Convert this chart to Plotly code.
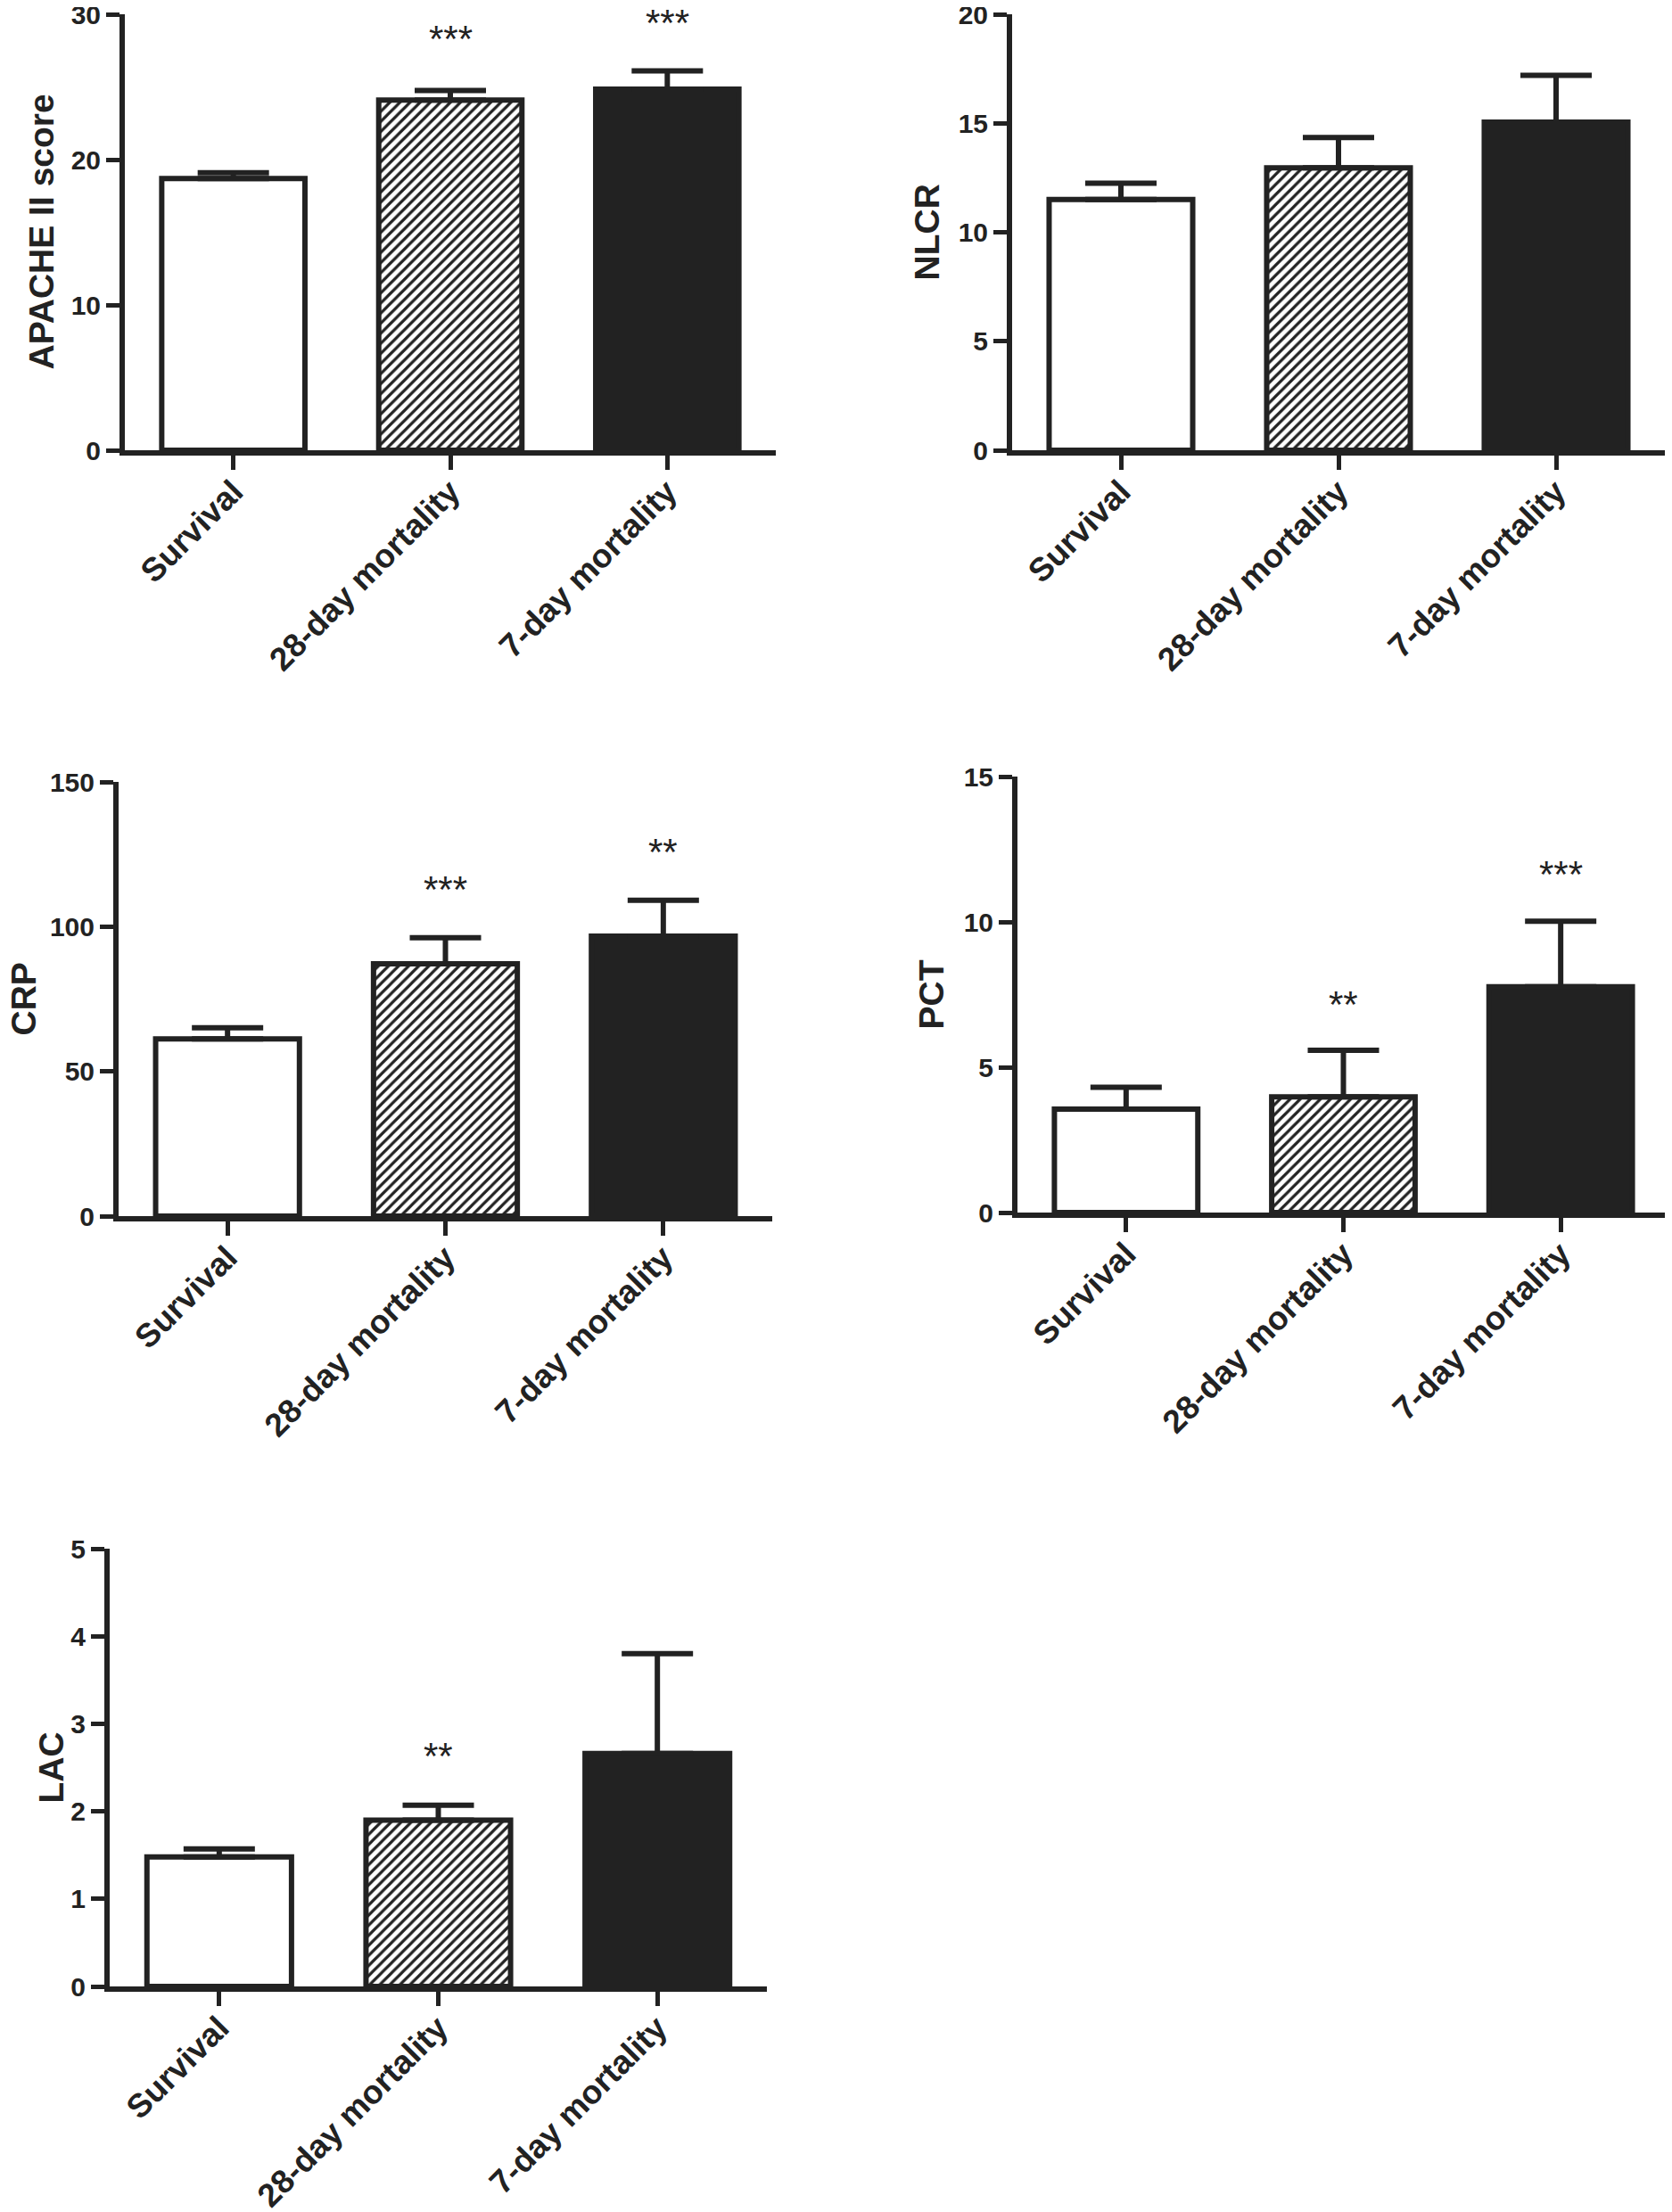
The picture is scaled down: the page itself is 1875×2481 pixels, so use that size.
import plotly.graph_objects as go

W, H = 1875, 2481
OFF = 8  # default page body margin shifts the figure by this many pixels

categories = ["Survival", "28-day mortality", "7-day mortality"]

apache_mean = [18.7, 24.1, 24.85]
apache_err = [0.4, 0.65, 1.25]
apache_stars = ["", "***", "***"]
apache_star_y = [None, 28.8, 29.9]

nlcr_mean = [11.5, 12.95, 15.05]
nlcr_err = [0.75, 1.4, 2.15]
nlcr_stars = ["", "", ""]
nlcr_star_y = [None, None, None]

crp_mean = [61.2, 87.2, 96.7]
crp_err = [3.9, 9.0, 12.4]
crp_stars = ["", "***", "**"]
crp_star_y = [None, 115.3, 128.3]

pct_mean = [3.56, 3.98, 7.77]
pct_err = [0.75, 1.6, 2.25]
pct_stars = ["", "**", "***"]
pct_star_y = [None, 7.42, 11.9]

lac_mean = [1.48, 1.9, 2.66]
lac_err = [0.09, 0.17, 1.14]
lac_stars = ["", "**", ""]
lac_star_y = [None, 2.71, None]

panels = [
    dict(title="APACHE II score", mean=apache_mean, err=apache_err, stars=apache_stars, stary=apache_star_y,
         ymax=30, dtick=10, px=(140, 870), py=(16, 505), tx=46),
    dict(title="NLCR", mean=nlcr_mean, err=nlcr_err, stars=nlcr_stars, stary=nlcr_star_y,
         ymax=20, dtick=5, px=(1135, 1867), py=(16, 505), tx=1039),
    dict(title="CRP", mean=crp_mean, err=crp_err, stars=crp_stars, stary=crp_star_y,
         ymax=150, dtick=50, px=(133, 866), py=(877, 1364), tx=26),
    dict(title="PCT", mean=pct_mean, err=pct_err, stars=pct_stars, stary=pct_star_y,
         ymax=15, dtick=5, px=(1141, 1872), py=(871, 1360), tx=1044),
    dict(title="LAC", mean=lac_mean, err=lac_err, stars=lac_stars, stary=lac_star_y,
         ymax=5, dtick=1, px=(123, 860), py=(1737, 2228), tx=57),
]

INK = "#222222"
FONT = "Liberation Sans, Arial, sans-serif"
fills = ["white", "white", INK]
shapes = ["", "/", ""]


def fx(px):
    return (px - OFF) / W


def fy(py):
    return 1 - (py - OFF) / H


fig = go.Figure()
annotations = []
layout = dict(
    template="none",
    width=W, height=H,
    margin=dict(l=0, r=0, t=0, b=0, autoexpand=False),
    paper_bgcolor="white", plot_bgcolor="white",
    showlegend=False,
    font=dict(family=FONT, color=INK),
)

for i, p in enumerate(panels):
    n = i + 1
    xa = "x" if n == 1 else f"x{n}"
    ya = "y" if n == 1 else f"y{n}"
    for j, c in enumerate(categories):
        marker = dict(color=fills[j], line=dict(color=INK, width=6))
        if shapes[j]:
            marker["pattern"] = dict(shape=shapes[j], fgcolor=INK, bgcolor="white",
                                     size=8, solidity=0.4, fillmode="replace")
        fig.add_trace(go.Bar(
            x=[c], y=[p["mean"][j]], xaxis=xa, yaxis=ya, width=0.66,
            marker=marker,
            error_y=dict(type="data", array=[p["err"][j]], arrayminus=[0], symmetric=False,
                         color=INK, thickness=6, width=40),
        ))
    x0, x1 = p["px"]
    y0, y1 = p["py"]
    axx = dict(
        domain=[fx(x0), fx(x1)], anchor=ya, range=[-0.5, 2.5], automargin=False,
        showline=True, linecolor=INK, linewidth=6, showgrid=False, zeroline=False,
        ticks="outside", ticklen=16, tickwidth=5, tickcolor=INK,
        ticklabeloverflow="allow", ticklabelstandoff=-12,
        tickangle=-45, tickfont=dict(family=FONT, size=37, color=INK, weight="bold"),
        categoryorder="array", categoryarray=categories, fixedrange=True,
    )
    axy = dict(
        domain=[fy(y1), fy(y0)], anchor=xa, range=[0, p["ymax"]], automargin=False,
        tickmode="linear", tick0=0, dtick=p["dtick"],
        showline=True, linecolor=INK, linewidth=6, showgrid=False, zeroline=False,
        ticks="outside", ticklen=15, tickwidth=5, tickcolor=INK,
        ticklabeloverflow="allow",
        tickfont=dict(family=FONT, size=30, color=INK, weight="bold"), fixedrange=True,
    )
    layout["xaxis" if n == 1 else f"xaxis{n}"] = axx
    layout["yaxis" if n == 1 else f"yaxis{n}"] = axy
    annotations.append(dict(
        text=f"<b>{p['title']}</b>", xref="paper", yref="paper",
        x=fx(p["tx"]), y=fy((y0 + y1) / 2), textangle=-90,
        xanchor="center", yanchor="middle", showarrow=False,
        font=dict(family=FONT, size=39, color=INK),
    ))
    for c, s, sy in zip(categories, p["stars"], p["stary"]):
        if s:
            annotations.append(dict(
                text=s, x=c, y=sy, xref=xa, yref=ya, showarrow=False,
                xanchor="center", yanchor="middle", yshift=-8,
                font=dict(family=FONT, size=42, color=INK),
            ))

layout["annotations"] = annotations
fig.update_layout(**layout)
fig.write_html("out.html")
